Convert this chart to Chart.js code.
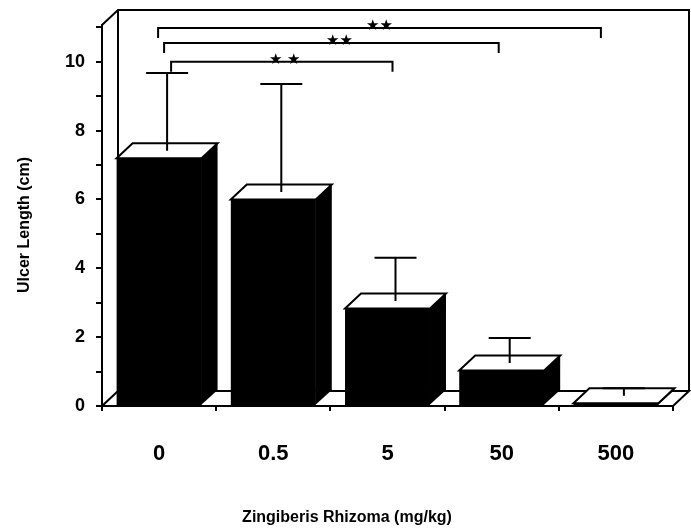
<!DOCTYPE html>
<html>
<head>
<meta charset="utf-8">
<script src="https://cdn.jsdelivr.net/npm/chart.js@4"></script>
<style>
  html, body { margin: 0; padding: 0; background: #fff; }
  canvas { display: block; }
</style>
</head>
<body>
<canvas id="chart" width="691" height="531"></canvas>
<script>
// 劑量 (mg/kg) 與潰瘍長度
const doses = ['0', '0.5', '5', '50', '500'];
const ulcerMean = [7.2, 6.0, 2.83, 1.03, 0.08];
const ulcerErr = [2.26, 3.14, 1.26, 0.73, 0.22];

// 顯著性標記 (0 mg/kg 對照組比較)
const sigFrom = [0, 0, 0];
const sigTo = [2, 3, 4];
const sigLevel = [10.0, 10.55, 10.98];
const sigLabel = ['★ ★', '★★', '★★'];
const sigLabelAt = [1.1, 1.58, 1.93];

const yTitle = 'Ulcer Length (cm)';
const xTitle = 'Zingiberis Rhizoma (mg/kg)';

// 3D 深度偏移
const DX = 16, DY = 15;
const FONT = "'Liberation Sans', Arial, Helvetica, sans-serif";

const box3d = {
    id: 'box3d',
    beforeDatasetsDraw(chart) {
        const { ctx, chartArea: a } = chart;
        ctx.save();
        ctx.strokeStyle = '#000';
        ctx.lineWidth = 2;
        // 地板
        ctx.fillStyle = '#fff';
        ctx.beginPath();
        ctx.moveTo(a.left, a.bottom);
        ctx.lineTo(a.left + DX, a.bottom - DY);
        ctx.lineTo(a.right + DX, a.bottom - DY);
        ctx.lineTo(a.right, a.bottom);
        ctx.closePath();
        ctx.fill();
        ctx.stroke();
        // 背牆
        ctx.beginPath();
        ctx.moveTo(a.left, a.top);
        ctx.lineTo(a.left + DX, a.top - DY);
        ctx.lineTo(a.right + DX, a.top - DY);
        ctx.lineTo(a.right + DX, a.bottom - DY);
        ctx.moveTo(a.left + DX, a.top - DY);
        ctx.lineTo(a.left + DX, a.bottom - DY);
        ctx.stroke();
        ctx.restore();
    },
    afterDatasetsDraw(chart) {
        const { ctx } = chart;
        const xs = chart.scales.x, ys = chart.scales.y;
        const bars = chart.getDatasetMeta(0).data;
        ctx.save();
        ctx.strokeStyle = '#000';
        ctx.lineWidth = 2;

        bars.forEach((el, i) => {
            const l = el.x - el.width / 2, r = el.x + el.width / 2;
            const t = el.y, b = el.base;
            // 側面
            ctx.fillStyle = '#000';
            ctx.beginPath();
            ctx.moveTo(r - 0.5, t);
            ctx.lineTo(r + DX, t - DY);
            ctx.lineTo(r + DX, b - DY);
            ctx.lineTo(r - 0.5, b);
            ctx.closePath();
            ctx.fill();
            // 頂面
            ctx.fillStyle = '#fff';
            ctx.beginPath();
            ctx.moveTo(l, t);
            ctx.lineTo(l + DX, t - DY);
            ctx.lineTo(r + DX, t - DY);
            ctx.lineTo(r, t);
            ctx.closePath();
            ctx.fill();
            ctx.stroke();

            // 誤差線
            const ex = el.x + DX / 2;
            const y0 = t - DY / 2;
            const y1 = ys.getPixelForValue(ulcerMean[i] + ulcerErr[i]) - DY / 2;
            ctx.beginPath();
            ctx.moveTo(ex, y0);
            ctx.lineTo(ex, y1);
            ctx.moveTo(ex - 21, y1);
            ctx.lineTo(ex + 21, y1);
            ctx.stroke();
        });

        // 顯著性括號
        const offL = [12, 5, -1];
        const offR = [5, -3, -15];
        ctx.font = "15px 'DejaVu Sans', sans-serif";
        ctx.textAlign = 'center';
        ctx.textBaseline = 'alphabetic';
        sigFrom.forEach((f, k) => {
            const x1 = xs.getPixelForValue(f) + offL[k];
            const x2 = xs.getPixelForValue(sigTo[k]) + offR[k];
            const y = ys.getPixelForValue(sigLevel[k]);
            ctx.lineWidth = 2;
            ctx.beginPath();
            ctx.moveTo(x1, y + 10);
            ctx.lineTo(x1, y);
            ctx.lineTo(x2, y);
            ctx.lineTo(x2, y + 10);
            ctx.stroke();
            ctx.fillStyle = '#000';
            ctx.fillText(sigLabel[k], xs.getPixelForValue(sigLabelAt[k]), y + 2);
        });
        ctx.restore();
    },
    afterDraw(chart) {
        const { ctx } = chart;
        ctx.save();
        ctx.fillStyle = '#000';
        ctx.font = 'bold 16px ' + FONT;
        ctx.textAlign = 'center';
        ctx.textBaseline = 'middle';
        ctx.fillText(xTitle, 347, 518);
        ctx.translate(25, 225);
        ctx.rotate(-Math.PI / 2);
        ctx.fillText(yTitle, 0, 0);
        ctx.restore();
    }
};

new Chart(document.getElementById('chart'), {
    type: 'bar',
    data: {
        labels: doses,
        datasets: [{
            data: ulcerMean,
            backgroundColor: '#000',
            borderWidth: 0,
            barPercentage: 0.744,
            categoryPercentage: 1
        }]
    },
    options: {
        responsive: false,
        animation: false,
        devicePixelRatio: 1,
        layout: { padding: { top: 25, right: 18, bottom: 0, left: 0 } },
        plugins: { legend: { display: false }, tooltip: { enabled: false } },
        scales: {
            x: {
                afterFit: s => { s.height = 125; },
                grid: { drawOnChartArea: false, drawTicks: true, tickLength: 5, color: '#000', lineWidth: 2, offset: true },
                border: { display: true, color: '#000', width: 2 },
                ticks: { color: '#000', font: { family: FONT, size: 22, weight: 'bold' }, padding: 30, maxRotation: 0 }
            },
            y: {
                min: 0,
                max: 11.07,
                afterFit: s => { s.width = 102; },
                grid: { drawOnChartArea: false, drawTicks: true, tickLength: 6, color: '#000', lineWidth: 2 },
                border: { display: true, color: '#000', width: 2 },
                ticks: {
                    stepSize: 1,
                    includeBounds: false,
                    color: '#000',
                    padding: 11,
                    font: { family: FONT, size: 18, weight: 'bold' },
                    callback: v => (v % 2 === 0 ? String(v) : '')
                }
            }
        }
    },
    plugins: [box3d]
});
</script>
</body>
</html>
